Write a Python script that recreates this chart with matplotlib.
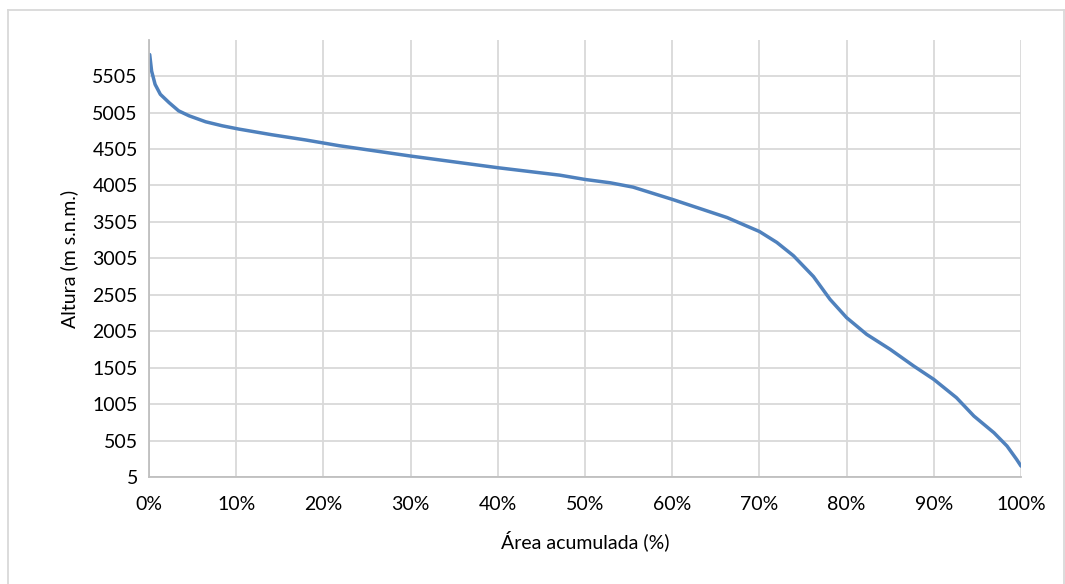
import matplotlib
matplotlib.use('Agg')
import matplotlib.pyplot as plt
from matplotlib.lines import Line2D

plt.rcParams['font.family'] = ['Lato', 'DejaVu Sans']

# Hypsometric curve
area_pct = [0.08, 0.3, 0.7, 1.3, 2.3, 3.4, 4.6, 6.5, 8.4, 10.3, 14.1, 18.0, 21.8,
            30, 40, 47.1, 50, 52.9, 55.5, 57.8, 60, 63.2, 66.3, 68.5, 70, 72,
            73.9, 76.2, 78.1, 80, 82.3, 85, 87.7, 90, 92.6, 94.6, 96.9, 98.4,
            99.5, 100]
altura = [5800, 5573, 5391, 5255, 5141, 5028, 4960, 4878, 4823, 4778, 4700, 4628,
          4550, 4408, 4248, 4146, 4087, 4041, 3982, 3896, 3814, 3687, 3564, 3450,
          3373, 3223, 3041, 2755, 2442, 2191, 1962, 1756, 1527, 1344, 1093, 841,
          612, 429, 246, 155]

y_ticks = list(range(5, 5506, 500))
x_ticks = list(range(0, 101, 10))
x_tick_labels = [f'{v}%' for v in x_ticks]

fig = plt.figure(figsize=(10.65, 5.84), dpi=100)
ax = fig.add_axes([149/1065, 1 - 477/584, (1021 - 149)/1065, (477 - 40)/584])

ax.plot(area_pct, altura, color='#4f81bd', linewidth=2.5,
        solid_capstyle='round', solid_joinstyle='round')

ax.set_xlim(0, 100)
ax.set_ylim(5, 6000)
ax.set_xticks(x_ticks)
ax.set_xticklabels(x_tick_labels)
ax.set_yticks(y_ticks)
ax.tick_params(length=0, labelsize=14, colors='#000000', pad=8)
ax.tick_params(axis='x', pad=14)
ax.grid(True, color='#d9d9d9', linewidth=1.3)
ax.set_axisbelow(True)
for side in ['top', 'right']:
    ax.spines[side].set_visible(False)
for side in ['left', 'bottom']:
    ax.spines[side].set_color('#bfbfbf')
    ax.spines[side].set_linewidth(1.3)

ax.set_xlabel('Área acumulada (%)', fontsize=14, labelpad=12)
ax.set_ylabel('Altura (m s.n.m.)', fontsize=14, labelpad=10)

# outer chart frame
fig.add_artist(Line2D([8/1065, 1064/1065], [1 - 10/584, 1 - 10/584],
                      transform=fig.transFigure, color='#d9d9d9', linewidth=1.3))
fig.add_artist(Line2D([8/1065, 8/1065], [1 - 10/584, 0],
                      transform=fig.transFigure, color='#d9d9d9', linewidth=1.3))
fig.add_artist(Line2D([1064/1065, 1064/1065], [1 - 10/584, 0],
                      transform=fig.transFigure, color='#d9d9d9', linewidth=1.3))

fig.savefig('out.png', dpi=100, facecolor='white')
plt.close(fig)
